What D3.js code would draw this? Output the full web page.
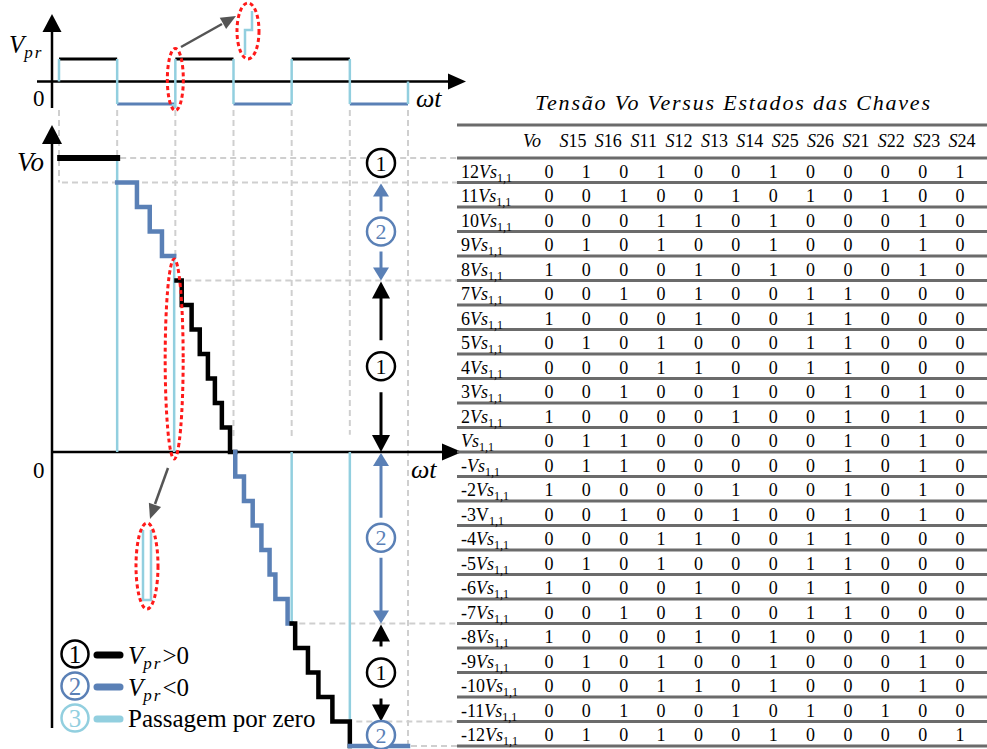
<!DOCTYPE html>
<html><head><meta charset="utf-8">
<script src="https://cdn.jsdelivr.net/npm/d3@7"></script>
<style>
html,body{margin:0;padding:0;background:#fff;}
svg{display:block;}
svg text{font-family:"Liberation Serif","Times New Roman",Times,"DejaVu Serif",serif;}
</style></head><body>
<svg id="fig" width="987" height="749" font-family="Liberation Serif, Times New Roman, DejaVu Serif, serif"></svg>
<script>
// ---------- data ----------
// Vpr polarity for each half period (time unit = one half period)
const vprPolarity = [1, -1, 1, -1, 1, -1];
// short dip of Vpr through zero at the third edge: [time, level]
const vprDip = [[1.96, -1], [1.96, -1.13], [2.0, -1.13], [2.0, 1]];

// Vo staircase: [start time, end time, level (multiples of Vs1,1), state]
// state 1 = Vpr>0, state 2 = Vpr<0
const voSteps = [
  [0.02, 1.00, 12, 1],
  [1.00, 1.34, 11, 2],
  [1.34, 1.56, 10, 2],
  [1.56, 1.77, 9, 2],
  [1.77, 1.98, 8, 2],
  [2.02, 2.11, 7, 1],
  [2.11, 2.28, 6, 1],
  [2.28, 2.42, 5, 1],
  [2.42, 2.56, 4, 1],
  [2.56, 2.68, 3, 1],
  [2.68, 2.80, 2, 1],
  [2.80, 2.94, 1, 1],
  [2.94, 3.03, 0, 1],
  [3.03, 3.03, 0, 2],
  [3.03, 3.18, -1, 2],
  [3.18, 3.33, -2, 2],
  [3.33, 3.48, -3, 2],
  [3.48, 3.62, -4, 2],
  [3.62, 3.72, -5, 2],
  [3.72, 3.93, -6, 2],
  [3.93, 4.00, -7, 2],
  [4.00, 4.06, -7, 1],
  [4.06, 4.28, -8, 1],
  [4.28, 4.46, -9, 1],
  [4.46, 4.70, -10, 1],
  [4.70, 5.00, -11, 1],
  [5.00, 5.00, -12, 1],
  [5.00, 6.00, -12, 2]
];
// zero-crossing passages: [time, level the jump starts from]
const zeroCrossings = [[1.0, 12], [1.98, 8], [4.0, -7], [5.0, -12]];

// dashed guides: vertical [time, lowest level reached], horizontal [level, start time]
const guideTimes = [[0, 11], [1, 12], [2, 8], [3, 0.5], [4, 0.5], [5, 0.7], [6, -12]];
const guideLevels = [[12, 1.0], [11, 0.0], [7, 2.12], [-7, 4.08], [-11, 5.06], [-12, 6.0]];

// operating state spans: [upper level, lower level, state]
const stateSpans = [[11, 7, 2], [7, 0, 1], [0, -7, 2], [-7, -11, 1]];
const stateMarks = [[11.8, 1], [-11.55, 2]];

// legend
const legendItems = [
  { n: "1", state: 1, text: [">0"] },
  { n: "2", state: 2, text: ["<0"] },
  { n: "3", state: 3, text: null }
];

// switching table
const tableTitle = "Tensão Vo Versus Estados das Chaves";
const switchNames = ["S15","S16","S11","S12","S13","S14","S25","S26","S21","S22","S23","S24"];
const rowLabels = ["12Vs","11Vs","10Vs","9Vs","8Vs","7Vs","6Vs","5Vs","4Vs","3Vs","2Vs","Vs",
                   "-Vs","-2Vs","-3V","-4Vs","-5Vs","-6Vs","-7Vs","-8Vs","-9Vs","-10Vs","-11Vs","-12Vs"];
const switchStates = [
  [0,1,0,1,0,0,1,0,0,0,0,1],
  [0,0,1,0,0,1,0,1,0,1,0,0],
  [0,0,0,1,1,0,1,0,0,0,1,0],
  [0,1,0,1,0,0,1,0,0,0,1,0],
  [1,0,0,0,1,0,1,0,0,0,1,0],
  [0,0,1,0,1,0,0,1,1,0,0,0],
  [1,0,0,0,1,0,0,1,1,0,0,0],
  [0,1,0,1,0,0,0,1,1,0,0,0],
  [0,0,0,1,1,0,0,1,1,0,0,0],
  [0,0,1,0,0,1,0,0,1,0,1,0],
  [1,0,0,0,0,1,0,0,1,0,1,0],
  [0,1,1,0,0,0,0,0,1,0,1,0],
  [0,1,1,0,0,0,0,0,1,0,1,0],
  [1,0,0,0,0,1,0,0,1,0,1,0],
  [0,0,1,0,0,1,0,0,1,0,1,0],
  [0,0,0,1,1,0,0,1,1,0,0,0],
  [0,1,0,1,0,0,0,1,1,0,0,0],
  [1,0,0,0,1,0,0,1,1,0,0,0],
  [0,0,1,0,1,0,0,1,1,0,0,0],
  [1,0,0,0,1,0,1,0,0,0,1,0],
  [0,1,0,1,0,0,1,0,0,0,1,0],
  [0,0,0,1,1,0,1,0,0,0,1,0],
  [0,0,1,0,0,1,0,1,0,1,0,0],
  [0,1,0,1,0,0,1,0,0,0,0,1]
];

// ---------- drawing ----------
const svg = d3.select("#fig");
const COL = { black: "#000", blue: "#5a80b6", light: "#92cfdf", grid: "#cfcfcf",
              red: "#ff1a1a", rule: "#6b6b6b", callout: "#555" };
const stateColor = s => s === 1 ? COL.black : s === 2 ? COL.blue : COL.light;

const x = d3.scaleLinear().domain([0, 6]).range([59, 408]);
const yTop = d3.scaleLinear().domain([-1, 1]).range([104, 59]);
const y = d3.scaleLinear().domain([-12, 12]).range([746, 158]);
const tableLeft = 457, tableRight = 987;

// dashed guides
const grid = svg.append("g").attr("stroke", COL.grid).attr("stroke-width", 2)
  .attr("stroke-dasharray", "6 4").attr("fill", "none");
grid.selectAll("line.v").data(guideTimes).join("line").attr("class", "v")
  .attr("x1", d => x(d[0])).attr("x2", d => x(d[0]))
  .attr("y1", 110).attr("y2", d => y(d[1]));
grid.selectAll("line.h").data(guideLevels).join("line").attr("class", "h")
  .attr("x1", d => x(d[1]) + 3).attr("x2", 462)
  .attr("y1", d => y(d[0])).attr("y2", d => y(d[0]));

// arrow helper: filled triangle pointing along (dx,dy)
function head(g, tx, ty, dx, dy, len, half, color) {
  const px = -dy, py = dx;
  const bx = tx - dx * len, by = ty - dy * len;
  g.append("path")
    .attr("d", `M${tx},${ty}L${bx + px * half},${by + py * half}L${bx - px * half},${by - py * half}Z`)
    .attr("fill", color);
}

// ----- upper plot: Vpr -----
const vprG = svg.append("g");
vprG.append("line").attr("x1", 52).attr("x2", 52).attr("y1", 30).attr("y2", 108)
  .attr("stroke", "#000").attr("stroke-width", 2.5);
head(vprG, 52, 14, 0, -1, 18, 9.5, "#000");
vprG.append("line").attr("x1", 37).attr("x2", 450).attr("y1", yTop(0)).attr("y2", yTop(0))
  .attr("stroke", "#000").attr("stroke-width", 2.5);
head(vprG, 466, yTop(0), 1, 0, 18, 8, "#000");

vprG.selectAll("line.lvl").data(vprPolarity).join("line").attr("class", "lvl")
  .attr("x1", (d, i) => x(i)).attr("x2", (d, i) => x(i + 1))
  .attr("y1", d => yTop(d)).attr("y2", d => yTop(d))
  .attr("stroke", d => d > 0 ? COL.black : COL.blue).attr("stroke-width", 3);

const edges = d3.range(vprPolarity.length + 1).filter(i => i !== 2);
vprG.selectAll("line.edge").data(edges).join("line").attr("class", "edge")
  .attr("x1", i => x(i)).attr("x2", i => x(i))
  .attr("y1", i => yTop(i === 0 ? 0 : vprPolarity[i - 1]))
  .attr("y2", i => yTop(i === vprPolarity.length ? 0 : vprPolarity[i]))
  .attr("stroke", COL.light).attr("stroke-width", 2.5);
vprG.append("path").datum(vprDip)
  .attr("d", d3.line().x(d => x(d[0])).y(d => yTop(d[1])))
  .attr("fill", "none").attr("stroke", COL.light).attr("stroke-width", 2.5);

const lbl = svg.append("g").attr("fill", "#000");
const vpr = lbl.append("text").attr("x", 9).attr("y", 53).attr("font-size", 25).attr("font-style", "italic");
vpr.append("tspan").text("V");
vpr.append("tspan").attr("font-size", 17).attr("dy", 5).attr("letter-spacing", 2).text("pr");
lbl.append("text").attr("x", 33).attr("y", 106).attr("font-size", 23).text("0");
lbl.append("text").attr("x", 416).attr("y", 107).attr("font-size", 26).attr("font-style", "italic").text("ωt");

// ----- main plot: Vo -----
const main = svg.append("g");
main.append("line").attr("x1", 52).attr("x2", 52).attr("y1", 140).attr("y2", 728)
  .attr("stroke", "#000").attr("stroke-width", 2.5);
head(main, 52, 125, 0, -1, 19, 10, "#000");
main.append("line").attr("x1", 52).attr("x2", 445).attr("y1", y(0)).attr("y2", y(0))
  .attr("stroke", "#000").attr("stroke-width", 2.5);
head(main, 462, y(0), 1, 0, 20, 8.5, "#000");

lbl.append("text").attr("x", 17).attr("y", 171).attr("font-size", 27).attr("font-style", "italic").text("Vo");
lbl.append("text").attr("x", 33).attr("y", 478).attr("font-size", 23).text("0");
lbl.append("text").attr("x", 411).attr("y", 478).attr("font-size", 26).attr("font-style", "italic").text("ωt");

// zero-crossing passages
main.selectAll("line.zc").data(zeroCrossings).join("line").attr("class", "zc")
  .attr("x1", d => x(d[0])).attr("x2", d => x(d[0]))
  .attr("y1", d => y(d[1])).attr("y2", y(0))
  .attr("stroke", COL.light).attr("stroke-width", 2.5);

// staircase, one path per run of equal state
const runs = [];
voSteps.forEach(s => {
  const last = runs[runs.length - 1];
  if (last && last.state === s[3]) last.steps.push(s);
  else runs.push({ state: s[3], steps: [s] });
});
const stair = d3.line().x(d => x(d[0])).y(d => y(d[1])).curve(d3.curveStepAfter);
main.selectAll("path.run").data(runs).join("path").attr("class", "run")
  .attr("d", r => {
    const pts = r.steps.map(s => [s[0], s[2]]);
    const e = r.steps[r.steps.length - 1];
    pts.push([e[1], e[2]]);
    return stair(pts);
  })
  .attr("fill", "none").attr("stroke", r => stateColor(r.state))
  .attr("stroke-width", (r, i) => i === 0 ? 6 : 4.5)
  .attr("stroke-linejoin", "miter").attr("stroke-linecap", "square");

// numbered circle marker
function marker(g, cx, cy, r, n, state, fs) {
  const c = stateColor(state);
  g.append("circle").attr("cx", cx).attr("cy", cy).attr("r", r)
    .attr("fill", "#fff").attr("stroke", c).attr("stroke-width", 2.5);
  g.append("text").attr("x", cx).attr("y", cy + fs * 0.35).attr("text-anchor", "middle")
    .attr("font-size", fs).attr("fill", c).text(n);
}

// state span annotations
const ann = svg.append("g");
const ax = 381, rC = 14;
stateSpans.forEach(([hi, lo, st]) => {
  const c = stateColor(st);
  const yA = y(hi), yB = y(lo), mid = (yA + yB) / 2;
  const len = st === 1 ? 17 : 13, half = st === 1 ? 9 : 8, gap = st === 1 ? 12 : 6;
  ann.append("line").attr("x1", ax).attr("x2", ax).attr("y1", yA + len - 1).attr("y2", mid - rC - gap)
    .attr("stroke", c).attr("stroke-width", 3);
  head(ann, ax, yA + 1, 0, -1, len, half, c);
  ann.append("line").attr("x1", ax).attr("x2", ax).attr("y1", mid + rC + gap).attr("y2", yB - len + 1)
    .attr("stroke", c).attr("stroke-width", 3);
  head(ann, ax, yB, 0, 1, len, half, c);
  marker(ann, ax, mid, rC, String(st), st, 22);
});
stateMarks.forEach(([lv, st]) => marker(ann, ax, y(lv), rC, String(st), st, 22));

// ----- callouts -----
const call = svg.append("g");
const ell = (cx, cy, rx, ry) => call.append("ellipse").attr("cx", cx).attr("cy", cy)
  .attr("rx", rx).attr("ry", ry).attr("fill", "none").attr("stroke", COL.red)
  .attr("stroke-width", 3).attr("stroke-dasharray", "4 3");
// edge with the dip in the Vpr waveform
ell(x(2.0), yTop(0) - 2, 8, 31);
// enlarged view of the dip
const zx = 248, zy = 31;
call.append("path").attr("d", `M${zx + 4},${zy - 20}V${zy - 1}H${zx - 3}V${zy + 24}`)
  .attr("fill", "none").attr("stroke", COL.light).attr("stroke-width", 2.5);
ell(zx, zy, 11, 28);
call.append("line").attr("x1", 181).attr("y1", 47).attr("x2", 222).attr("y2", 24)
  .attr("stroke", COL.callout).attr("stroke-width", 2.5);
head(call, 236, 16, 0.87, -0.49, 15, 6.5, COL.callout);

// zero crossing in the Vo waveform
ell(x(1.98), (y(8) + y(0)) / 2 + 5, 9, 100);
const lx = 147, ly = 566;
call.append("path").attr("d", `M${lx - 4},${ly - 36}V${ly + 34}H${lx + 4}V${ly - 36}`)
  .attr("fill", "none").attr("stroke", COL.light).attr("stroke-width", 2.5);
ell(lx, ly, 11, 43);
call.append("line").attr("x1", 168).attr("y1", 468).attr("x2", 155).attr("y2", 504)
  .attr("stroke", COL.callout).attr("stroke-width", 2.5);
head(call, 150, 519, -0.33, 0.94, 15, 6.5, COL.callout);

// ----- legend -----
const leg = svg.append("g");
legendItems.forEach((d, i) => {
  const cy = 654 + i * 32;
  const c = stateColor(d.state);
  marker(leg, 75, cy, 13.5, d.n, d.state, 25);
  leg.append("line").attr("x1", 97).attr("x2", 120).attr("y1", cy + 1).attr("y2", cy + 1)
    .attr("stroke", c).attr("stroke-width", 7).attr("stroke-linecap", "round");
  const t = leg.append("text").attr("x", 128).attr("y", cy + 10).attr("font-size", 25);
  if (d.text) {
    t.append("tspan").attr("font-style", "italic").text("V");
    t.append("tspan").attr("font-style", "italic").attr("font-size", 17).attr("dy", 5)
      .attr("letter-spacing", 2).text("pr");
    t.append("tspan").attr("dy", -5).text(d.text[0]);
  } else {
    t.attr("y", cy + 9).text("Passagem por zero");
  }
});

// ----- switching table -----
const tab = svg.append("g");
const rowY = d3.scaleBand().domain(rowLabels).range([y(12), y(-12)]);
const colX = d3.scalePoint().domain(switchNames).range([549, 960]);
const headX = d3.scalePoint().domain(switchNames).range([573, 962]);

tab.append("text").attr("x", 535).attr("y", 110).attr("font-size", 22).attr("font-style", "italic")
  .attr("textLength", 395).attr("lengthAdjust", "spacing").text(tableTitle);

const rules = [125, y(12)].concat(rowLabels.map(r => rowY(r) + rowY.bandwidth()));
tab.selectAll("line.rule").data(rules).join("line").attr("class", "rule")
  .attr("x1", tableLeft).attr("x2", tableRight).attr("y1", d => d).attr("y2", d => d)
  .attr("stroke", COL.rule).attr("stroke-width", 3);

// header
tab.append("text").attr("x", 532).attr("y", 147).attr("text-anchor", "middle")
  .attr("font-size", 18).attr("font-style", "italic").text("Vo");
tab.selectAll("text.head").data(switchNames).join("text").attr("class", "head")
  .attr("x", d => headX(d)).attr("y", 147).attr("text-anchor", "middle").attr("font-size", 18)
  .each(function (d) {
    const t = d3.select(this);
    t.append("tspan").attr("font-style", "italic").text(d[0]);
    t.append("tspan").text(d.slice(1));
  });

// row labels
tab.selectAll("text.row").data(rowLabels).join("text").attr("class", "row")
  .attr("x", 461).attr("y", d => rowY(d) + rowY.bandwidth() - 5).attr("font-size", 18)
  .each(function (d) {
    const m = d.match(/^(-?\d*)(Vs|V)$/);
    const t = d3.select(this);
    t.append("tspan").text(m[1]);
    t.append("tspan").attr("font-style", m[2] === "Vs" ? "italic" : "normal").text(m[2]);
    t.append("tspan").attr("font-size", 12).attr("dy", 4).text("1,1");
  });

// state cells
const rowsG = tab.selectAll("g.srow").data(switchStates).join("g").attr("class", "srow")
  .attr("transform", (d, i) => `translate(0,${rowY(rowLabels[i]) + rowY.bandwidth() - 5})`);
rowsG.selectAll("text").data(d => d).join("text")
  .attr("x", (d, j) => colX(switchNames[j])).attr("y", 0)
  .attr("text-anchor", "middle").attr("font-size", 18).text(d => d);
</script>
</body></html>
